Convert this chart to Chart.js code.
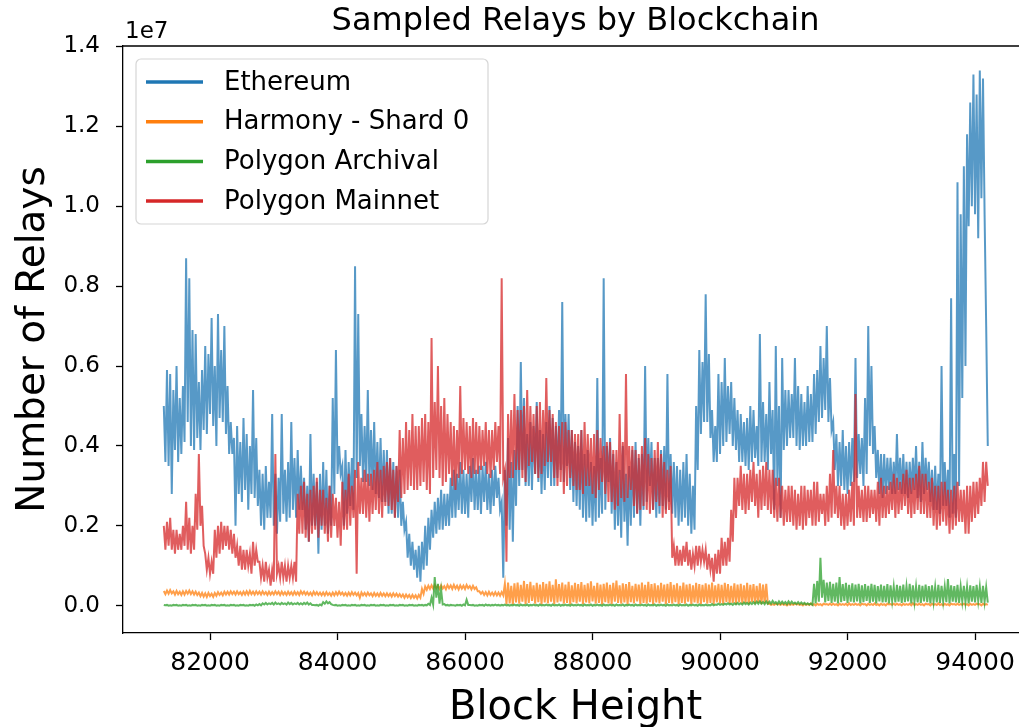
<!DOCTYPE html>
<html lang="en">
<head>
<meta charset="UTF-8">
<title>Sampled Relays by Blockchain</title>
<script src="https://cdn.jsdelivr.net/npm/chart.js"></script>
<style>
    html, body {
        margin: 0;
        padding: 0;
        background: #fff;
        overflow: hidden;
    }
    #wrap {
        width: 1040px;
        height: 727px;
    }
</style>
</head>
<body>
<div id="wrap"><canvas id="chart" width="1040" height="727"></canvas></div>
<script>
// one sample every 25 blocks from block 81275, values in millions of relays
// (each row covers 500 blocks; the series are read as alternating band top / band bottom)
const blockStart = 81275;
const blockStep = 25;

const ethereum = [
    5.0,3.6, 5.9,3.5, 5.8,2.8, 5.4,3.9, 6.0,3.6, 5.2,3.8, 5.5,4.1, 8.7,4.6, 8.2,4.0, 6.9,3.9,
    6.8,4.2, 5.6,3.9, 5.9,4.4, 6.5,4.3, 6.3,4.8, 7.2,4.5, 6.0,4.0, 7.3,4.7, 6.4,4.6, 7.0,4.3,
    5.5,3.8, 4.6,3.8, 4.2,2.0, 4.5,2.8, 4.1,2.6, 4.7,2.9, 4.3,2.4, 4.0,2.8, 5.4,2.7, 4.2,2.5,
    3.4,2.0, 3.3,1.9, 3.5,2.2, 3.1,2.2, 4.8,2.0, 3.3,1.8, 3.2,2.1, 4.8,2.3, 3.4,2.1, 3.6,2.2,
    4.6,2.4, 3.7,2.2, 3.9,2.4, 3.5,2.4, 3.2,1.9, 3.0,1.6, 4.3,2.0, 3.3,2.0, 3.1,1.3, 3.3,1.9,
    3.6,2.0, 3.4,1.8, 3.0,2.0, 5.2,2.8, 6.4,3.3, 4.0,3.3, 3.5,2.0, 3.9,2.3, 3.6,2.5, 3.7,2.4,
    8.5,3.2, 7.3,3.5, 4.8,3.1, 4.5,3.1, 5.4,3.0, 4.4,2.9, 4.6,2.8, 4.1,2.7, 4.2,2.6, 3.9,2.6,
    3.9,2.3, 3.7,2.3, 3.6,2.2, 3.5,2.2, 3.4,2.0, 2.6,1.9, 2.1,1.2, 1.8,1.0, 1.6,0.9, 1.4,0.7,
    1.5,0.6, 1.6,0.9, 2.0,1.0, 2.2,1.4, 2.4,1.7, 2.6,1.8, 2.7,1.9, 2.9,1.9, 2.8,2.0, 2.8,2.0,
    3.2,2.2, 3.4,2.2, 3.3,2.4, 3.6,2.3, 3.4,2.3, 3.3,2.2, 3.5,2.6, 3.7,2.4, 3.4,2.4, 3.5,2.3,
    3.5,2.6, 3.6,2.4, 3.3,2.3, 3.4,2.5, 3.5,2.7, 3.2,2.4, 2.6,0.7, 3.4,2.0, 4.2,1.9, 3.6,1.6,
    3.9,2.5, 5.0,3.0, 6.1,3.4, 5.2,3.0, 4.3,3.0, 4.6,2.9, 4.5,3.3, 5.1,3.1, 4.4,2.8, 4.3,2.9,
    4.6,3.2, 5.0,3.0, 4.7,3.0, 4.5,3.2, 4.9,3.4, 7.6,3.1, 4.8,3.5, 4.8,2.9, 4.4,2.6, 4.1,2.5,
    4.0,2.4, 4.4,2.2, 3.8,2.1, 3.9,2.2, 3.6,2.0, 3.5,2.1, 5.7,2.2, 3.7,2.3, 8.2,2.4, 4.0,3.1,
    4.2,2.3, 3.8,1.9, 3.6,2.0, 3.4,1.7, 4.0,2.1, 3.3,1.5, 3.5,2.0, 3.9,2.2, 4.1,2.3, 3.7,2.0,
    3.8,2.4, 6.0,2.6, 4.2,3.0, 4.1,2.4, 3.7,2.2, 3.7,2.3, 3.9,2.5, 4.0,2.4, 5.8,2.6, 3.8,2.3,
    3.6,2.2, 3.5,2.0, 3.4,2.1, 3.6,2.2, 3.8,2.0, 3.3,1.8, 3.0,1.9, 5.0,3.4, 6.4,4.3, 6.1,4.6,
    7.8,4.6, 6.3,4.2, 4.9,3.6, 4.5,3.6, 5.8,3.8, 5.6,4.0, 6.2,4.1, 5.5,4.3, 5.6,4.0, 5.2,3.9,
    4.9,3.6, 4.8,3.6, 4.6,3.5, 4.7,3.4, 5.0,3.6, 4.9,3.7, 4.5,3.5, 6.8,3.6, 5.1,3.6, 4.8,3.4,
    5.6,3.8, 4.9,2.4, 6.5,3.0, 5.0,2.2, 6.2,3.9, 5.4,4.0, 5.4,4.2, 5.3,4.2, 6.2,4.0, 5.5,3.9,
    5.3,4.0, 5.1,4.0, 5.5,4.1, 5.3,4.1, 5.8,4.3, 5.9,4.6, 6.5,4.7, 6.2,4.9, 7.0,4.6, 5.7,4.4,
    4.6,3.4, 4.3,3.0, 4.1,3.0, 4.4,2.9, 4.0,2.8, 4.1,3.0, 4.2,3.1, 6.2,3.2, 4.3,3.3, 4.2,3.0,
    5.2,3.3, 7.0,4.0, 6.0,3.8, 4.5,3.2, 3.9,2.8, 3.8,2.7, 3.8,2.8, 3.7,2.9, 3.7,2.8, 3.6,2.8,
    4.3,2.9, 3.7,2.8, 3.8,2.8, 3.6,2.7, 3.6,2.8, 3.7,2.9, 4.0,2.7, 3.6,2.6, 4.1,2.8, 3.7,2.9,
    3.6,2.6, 3.4,2.4, 3.5,2.4, 3.3,2.3, 6.0,2.5, 3.6,2.5, 3.4,2.2, 7.7,2.3, 3.8,2.2, 10.6,3.0,
    9.8,5.2, 11.0,6.0, 11.8,9.5, 12.6,10.0, 13.3,9.8, 12.8,9.2, 13.4,10.2, 13.2,9.8, 7.0,4.0
];

const harmony = [
    0.37,0.29, 0.38,0.30, 0.39,0.31, 0.36,0.28, 0.37,0.29, 0.35,0.27, 0.36,0.28, 0.37,0.30, 0.38,0.29, 0.36,0.28,
    0.35,0.27, 0.33,0.24, 0.32,0.23, 0.31,0.22, 0.32,0.24, 0.30,0.22, 0.32,0.25, 0.34,0.27, 0.33,0.26, 0.35,0.28,
    0.35,0.28, 0.36,0.29, 0.35,0.28, 0.36,0.29, 0.34,0.27, 0.35,0.28, 0.36,0.28, 0.37,0.29, 0.35,0.28, 0.36,0.29,
    0.35,0.28, 0.36,0.29, 0.34,0.27, 0.35,0.28, 0.34,0.28, 0.36,0.29, 0.35,0.27, 0.35,0.28, 0.34,0.27, 0.35,0.28,
    0.34,0.27, 0.35,0.28, 0.34,0.27, 0.36,0.29, 0.35,0.28, 0.34,0.27, 0.33,0.26, 0.35,0.28, 0.34,0.27, 0.33,0.26,
    0.33,0.26, 0.34,0.27, 0.32,0.25, 0.33,0.26, 0.34,0.27, 0.35,0.28, 0.33,0.26, 0.32,0.25, 0.33,0.26, 0.34,0.27,
    0.33,0.26, 0.32,0.20, 0.33,0.26, 0.32,0.25, 0.33,0.26, 0.31,0.24, 0.32,0.25, 0.31,0.24, 0.32,0.25, 0.31,0.24,
    0.31,0.24, 0.30,0.23, 0.31,0.24, 0.30,0.23, 0.29,0.22, 0.28,0.20, 0.28,0.21, 0.27,0.19, 0.27,0.20, 0.26,0.18,
    0.27,0.20, 0.42,0.30, 0.48,0.40, 0.50,0.42, 0.51,0.43, 0.52,0.44, 0.50,0.42, 0.51,0.43, 0.49,0.41, 0.52,0.44,
    0.51,0.42, 0.52,0.43, 0.50,0.41, 0.51,0.43, 0.50,0.42, 0.52,0.44, 0.49,0.41, 0.50,0.42, 0.46,0.36, 0.36,0.30,
    0.35,0.27, 0.34,0.26, 0.35,0.27, 0.33,0.26, 0.34,0.26, 0.33,0.25, 0.34,0.26, 0.55,0.04, 0.58,0.06, 0.50,0.03,
    0.56,0.08, 0.58,0.05, 0.52,0.10, 0.62,0.04, 0.54,0.07, 0.60,0.12, 0.51,0.05, 0.57,0.09, 0.53,0.03, 0.59,0.08,
    0.55,0.06, 0.61,0.10, 0.52,0.04, 0.66,0.08, 0.54,0.11, 0.58,0.05, 0.53,0.07, 0.60,0.03, 0.51,0.09, 0.57,0.06,
    0.54,0.10, 0.59,0.04, 0.52,0.08, 0.56,0.06, 0.61,0.11, 0.50,0.05, 0.57,0.07, 0.53,0.03, 0.55,0.09, 0.58,0.06,
    0.52,0.04, 0.57,0.10, 0.63,0.07, 0.51,0.05, 0.56,0.08, 0.54,0.03, 0.59,0.09, 0.50,0.06, 0.55,0.11, 0.53,0.04,
    0.58,0.07, 0.52,0.05, 0.60,0.09, 0.54,0.03, 0.56,0.08, 0.51,0.06, 0.57,0.10, 0.53,0.04, 0.55,0.07, 0.59,0.05,
    0.52,0.09, 0.56,0.04, 0.50,0.07, 0.58,0.05, 0.53,0.10, 0.55,0.03, 0.51,0.08, 0.57,0.06, 0.54,0.04, 0.52,0.09,
    0.56,0.05, 0.53,0.07, 0.58,0.03, 0.51,0.08, 0.55,0.06, 0.52,0.04, 0.57,0.09, 0.54,0.05, 0.50,0.07, 0.56,0.03,
    0.53,0.08, 0.55,0.05, 0.51,0.06, 0.57,0.04, 0.52,0.09, 0.54,0.05, 0.50,0.07, 0.56,0.04, 0.53,0.06, 0.55,0.05,
    0.05,0.02, 0.04,0.02, 0.05,0.03, 0.04,0.02, 0.05,0.02, 0.04,0.01, 0.05,0.02, 0.04,0.02, 0.05,0.03, 0.04,0.02,
    0.04,0.01, 0.05,0.02, 0.04,0.02, 0.06,0.02, 0.04,0.01, 0.05,0.02, 0.04,0.01, 0.05,0.03, 0.04,0.02, 0.05,0.02,
    0.05,0.02, 0.04,0.01, 0.05,0.02, 0.04,0.02, 0.05,0.01, 0.06,0.02, 0.04,0.02, 0.05,0.02, 0.04,0.01, 0.05,0.03,
    0.04,0.01, 0.05,0.02, 0.04,0.02, 0.06,0.02, 0.04,0.01, 0.05,0.02, 0.04,0.01, 0.05,0.03, 0.04,0.02, 0.05,0.02,
    0.05,0.02, 0.04,0.01, 0.05,0.02, 0.04,0.02, 0.05,0.01, 0.06,0.02, 0.04,0.02, 0.05,0.02, 0.04,0.01, 0.05,0.03,
    0.04,0.01, 0.05,0.02, 0.04,0.02, 0.06,0.02, 0.04,0.01, 0.05,0.02, 0.04,0.01, 0.05,0.03, 0.04,0.02, 0.05,0.02,
    0.04,0.02, 0.05,0.02, 0.04,0.01, 0.05,0.02, 0.04,0.02, 0.05,0.03, 0.04,0.01, 0.05,0.02, 0.04,0.02
];

const polygonArchival = [
    0.02,0.01, 0.02,0.00, 0.01,0.00, 0.02,0.01, 0.02,0.00, 0.01,0.00, 0.02,0.01, 0.02,0.00, 0.01,0.00, 0.02,0.01,
    0.02,0.00, 0.01,0.00, 0.02,0.01, 0.02,0.00, 0.01,0.00, 0.02,0.01, 0.02,0.00, 0.01,0.00, 0.02,0.01, 0.02,0.00,
    0.01,0.00, 0.02,0.01, 0.02,0.00, 0.01,0.00, 0.02,0.01, 0.02,0.00, 0.01,0.00, 0.02,0.01, 0.02,0.00, 0.03,0.01,
    0.04,0.01, 0.06,0.03, 0.07,0.03, 0.06,0.04, 0.07,0.03, 0.08,0.04, 0.06,0.03, 0.07,0.04, 0.06,0.03, 0.08,0.04,
    0.07,0.03, 0.06,0.04, 0.07,0.03, 0.06,0.03, 0.07,0.04, 0.08,0.03, 0.06,0.02, 0.02,0.01, 0.02,0.00, 0.03,0.01,
    0.09,0.05, 0.11,0.06, 0.09,0.04, 0.02,0.01, 0.02,0.00, 0.01,0.00, 0.02,0.01, 0.02,0.00, 0.01,0.00, 0.02,0.01,
    0.02,0.00, 0.01,0.00, 0.02,0.01, 0.02,0.00, 0.01,0.00, 0.02,0.01, 0.02,0.00, 0.01,0.00, 0.02,0.01, 0.02,0.00,
    0.01,0.00, 0.02,0.01, 0.02,0.00, 0.01,0.00, 0.02,0.01, 0.02,0.00, 0.01,0.00, 0.02,0.01, 0.02,0.00, 0.01,0.00,
    0.02,0.01, 0.02,0.00, 0.02,0.01, 0.05,0.02, 0.20,0.03, 0.72,0.20, 0.55,0.05, 0.40,0.03, 0.04,0.01, 0.02,0.00,
    0.02,0.01, 0.01,0.00, 0.02,0.01, 0.02,0.00, 0.03,0.01, 0.15,0.02, 0.02,0.01, 0.02,0.00, 0.01,0.00, 0.02,0.01,
    0.02,0.00, 0.03,0.01, 0.02,0.00, 0.02,0.01, 0.03,0.01, 0.02,0.00, 0.02,0.01, 0.03,0.01, 0.02,0.00, 0.02,0.01,
    0.03,0.01, 0.02,0.00, 0.03,0.01, 0.02,0.01, 0.03,0.00, 0.02,0.01, 0.03,0.01, 0.02,0.00, 0.03,0.01, 0.02,0.01,
    0.03,0.01, 0.02,0.00, 0.03,0.01, 0.02,0.01, 0.03,0.00, 0.02,0.01, 0.03,0.01, 0.02,0.00, 0.03,0.01, 0.02,0.01,
    0.03,0.01, 0.02,0.00, 0.03,0.01, 0.02,0.01, 0.03,0.00, 0.02,0.01, 0.03,0.01, 0.02,0.00, 0.03,0.01, 0.02,0.01,
    0.03,0.01, 0.02,0.00, 0.03,0.01, 0.02,0.01, 0.03,0.00, 0.02,0.01, 0.03,0.01, 0.02,0.00, 0.03,0.01, 0.02,0.01,
    0.03,0.01, 0.02,0.00, 0.03,0.01, 0.02,0.01, 0.03,0.00, 0.02,0.01, 0.03,0.01, 0.02,0.00, 0.03,0.01, 0.02,0.01,
    0.03,0.01, 0.02,0.00, 0.03,0.01, 0.02,0.01, 0.03,0.00, 0.02,0.01, 0.03,0.01, 0.02,0.00, 0.03,0.01, 0.02,0.01,
    0.03,0.01, 0.02,0.01, 0.04,0.01, 0.03,0.02, 0.05,0.02, 0.04,0.02, 0.05,0.03, 0.06,0.03, 0.05,0.02, 0.06,0.03,
    0.07,0.03, 0.06,0.03, 0.08,0.04, 0.07,0.03, 0.08,0.04, 0.09,0.04, 0.10,0.05, 0.11,0.05, 0.09,0.04, 0.11,0.05,
    0.10,0.05, 0.12,0.06, 0.09,0.04, 0.11,0.05, 0.10,0.05, 0.09,0.04, 0.11,0.05, 0.10,0.05, 0.08,0.04, 0.09,0.04,
    0.08,0.04, 0.07,0.03, 0.06,0.03, 0.05,0.02, 0.55,0.06, 0.62,0.10, 1.20,0.20, 0.65,0.08, 0.58,0.12, 0.60,0.07,
    0.55,0.10, 0.58,0.06, 0.72,0.09, 0.54,0.12, 0.57,0.07, 0.52,0.10, 0.56,0.08, 0.53,0.11, 0.55,0.06, 0.51,0.09,
    0.54,0.12, 0.50,0.07, 0.55,0.10, 0.52,0.06, 0.49,0.11, 0.53,0.08, 0.50,0.09, 0.54,0.06, 0.51,0.12, 0.48,0.08,
    0.52,0.10, 0.50,0.07, 0.53,0.09, 0.49,0.11, 0.55,0.06, 0.51,0.10, 0.48,0.08, 0.52,0.07, 0.50,0.11, 0.53,0.09,
    0.49,0.06, 0.51,0.10, 0.47,0.08, 0.52,0.07, 0.50,0.11, 0.48,0.09, 0.67,0.06, 0.51,0.10, 0.49,0.08, 0.52,0.07,
    0.48,0.11, 0.50,0.09, 0.47,0.06, 0.51,0.10, 0.49,0.08, 0.52,0.12, 0.48,0.07, 0.50,0.10, 0.46,0.08
];

const polygonMainnet = [
    2.0,1.4, 2.1,1.5, 2.2,1.4, 1.9,1.3, 1.9,1.4, 1.8,1.4, 2.0,1.5, 2.6,1.4, 2.2,1.3, 2.0,1.4,
    2.8,1.9, 3.8,2.0, 2.5,1.5, 1.3,0.9, 1.2,0.8, 1.1,0.8, 1.9,1.2, 2.0,1.3, 2.1,1.4, 2.0,1.5,
    2.0,1.4, 1.9,1.3, 1.8,1.2, 1.5,1.0, 1.5,0.9, 1.4,0.9, 1.4,1.0, 1.3,0.8, 1.6,1.0, 1.4,1.1,
    1.1,0.7, 1.0,0.6, 1.1,0.7, 0.9,0.5, 0.9,0.6, 3.8,0.8, 1.0,0.7, 1.1,0.7, 1.0,0.6, 1.0,0.7,
    1.0,0.7, 1.1,0.6, 2.8,1.8, 3.0,1.8, 3.1,1.7, 2.8,1.6, 2.9,1.8, 3.0,1.9, 3.2,1.7, 2.9,2.0,
    2.9,1.8, 2.7,1.6, 3.0,1.7, 2.8,2.0, 2.7,1.7, 2.6,1.5, 3.1,1.9, 2.9,1.9, 3.3,2.0, 3.0,2.2,
    3.4,0.8, 3.6,2.3, 3.2,2.3, 3.4,2.2, 3.3,2.1, 3.3,2.3, 3.4,2.4, 3.6,2.3, 3.4,2.2, 3.5,2.5,
    3.6,2.5, 3.7,2.4, 3.4,2.2, 3.5,2.6, 4.4,2.7, 4.2,2.8, 4.6,2.9, 4.4,3.0, 4.8,2.9, 4.5,2.9,
    4.5,3.0, 4.7,3.1, 4.8,2.9, 4.6,2.8, 6.7,3.2, 5.1,3.4, 6.0,3.2, 5.0,3.0, 5.2,3.1, 4.8,3.3,
    4.6,3.0, 4.5,2.9, 4.4,3.2, 5.5,3.3, 4.7,3.4, 4.6,3.3, 4.5,3.2, 4.7,3.3, 4.6,3.3, 4.5,3.4,
    4.4,3.5, 4.6,3.3, 4.4,3.2, 4.4,3.4, 4.6,3.6, 4.5,3.3, 8.2,3.2, 3.4,1.1, 4.8,3.2, 4.9,3.2,
    5.3,3.4, 4.9,3.4, 4.9,3.2, 5.0,3.1, 5.4,3.5, 5.0,3.6, 4.8,3.3, 5.0,3.2, 5.1,3.3, 4.9,3.5,
    5.7,3.6, 4.9,3.6, 4.8,3.2, 4.6,3.0, 4.5,3.1, 4.6,2.8, 4.6,3.0, 4.4,3.2, 4.4,3.0, 4.3,2.9,
    4.3,2.9, 4.4,2.8, 4.6,3.0, 4.3,3.0, 4.2,2.8, 4.3,2.7, 4.4,2.9, 4.2,3.1, 4.0,2.8, 4.1,2.6,
    4.1,2.6, 3.9,2.4, 3.9,2.5, 4.8,2.7, 4.1,2.6, 5.8,2.7, 4.0,2.9, 4.0,2.5, 3.9,2.3, 3.8,2.4,
    4.0,2.5, 4.2,2.4, 3.8,2.3, 3.7,2.4, 3.9,2.6, 4.1,2.5, 3.8,2.2, 3.6,2.3, 3.4,2.4, 3.5,1.2,
    1.5,1.0, 1.5,1.0, 1.4,1.0, 1.5,1.1, 1.6,1.0, 1.4,0.9, 1.3,1.0, 1.5,1.0, 1.5,1.1, 1.4,1.1,
    1.4,0.9, 1.3,0.9, 1.2,0.6, 1.3,0.8, 1.4,0.8, 1.7,1.0, 1.6,1.0, 1.7,1.1, 2.4,1.6, 3.2,2.2,
    3.2,2.5, 3.5,2.4, 3.3,2.3, 3.3,2.4, 3.4,2.6, 3.6,2.5, 3.3,2.2, 3.4,2.4, 3.5,2.5, 3.6,2.4,
    3.4,2.3, 3.4,2.2, 3.2,2.1, 3.2,2.2, 3.0,2.0, 2.9,2.1, 3.0,2.1, 3.0,2.0, 2.9,1.9, 2.8,2.0,
    3.0,1.9, 3.0,2.0, 2.9,2.2, 2.9,2.0, 3.1,2.0, 3.1,2.1, 2.8,2.3, 2.8,2.0, 3.0,2.1, 3.3,2.2,
    3.9,2.3, 3.0,2.2, 3.0,2.0, 2.8,1.9, 2.8,2.0, 2.9,2.1, 3.1,2.0, 5.3,2.2, 3.0,2.2, 2.9,2.1,
    3.0,2.1, 3.0,2.2, 2.9,2.3, 2.9,2.1, 3.1,2.0, 3.2,2.2, 3.0,2.2, 3.0,2.3, 3.1,2.4, 3.3,2.2,
    3.2,2.3, 3.1,2.4, 3.3,2.5, 3.4,2.3, 3.2,2.2, 3.2,2.3, 3.3,2.4, 3.5,2.3, 3.3,2.3, 3.3,2.2,
    3.1,2.2, 3.2,2.0, 3.0,1.9, 3.0,2.0, 3.1,2.1, 3.1,2.0, 2.9,1.8, 2.9,1.9, 3.0,2.0, 3.1,2.1,
    2.9,2.1, 2.9,1.8, 3.0,1.8, 3.0,2.1, 3.1,2.2, 3.1,2.3, 3.2,2.5, 3.6,2.6, 3.6,3.0
];

const seriesNames = ['Ethereum', 'Harmony - Shard 0', 'Polygon Archival', 'Polygon Mainnet'];
const seriesColors = ['#1f77b4', '#ff7f0e', '#2ca02c', '#d62728'];
const xTicks = [82000, 84000, 86000, 88000, 90000, 92000, 94000];
const yTicks = [0, 2e6, 4e6, 6e6, 8e6, 10e6, 12e6, 14e6];

function toPoints(values) {
    return values.map((v, i) => ({ x: blockStart + blockStep * i, y: v * 1e6 }));
}

function fade(hex, a) {
    const n = parseInt(hex.slice(1), 16);
    return 'rgba(' + (n >> 16) + ',' + ((n >> 8) & 255) + ',' + (n & 255) + ',' + a + ')';
}

const allSeries = [ethereum, harmony, polygonArchival, polygonMainnet];
const datasets = allSeries.map((vals, k) => ({
    label: seriesNames[k],
    data: toPoints(vals),
    borderColor: fade(seriesColors[k], 0.75),
    borderWidth: 2,
    pointRadius: 0,
    tension: 0,
    fill: false,
    order: 3 - k  // later series drawn on top, like matplotlib
}));

const FONT = "'DejaVu Sans', sans-serif";

// title, axis labels, offset text, legend and the top spine
const decorations = {
    id: 'decorations',
    afterDraw(chart) {
        const ctx = chart.ctx;
        const area = chart.chartArea;
        ctx.save();
        ctx.strokeStyle = '#000';
        ctx.lineWidth = 1.3;
        ctx.beginPath();
        ctx.moveTo(area.left, area.top);
        ctx.lineTo(area.right, area.top);
        ctx.lineTo(area.right, area.bottom);
        ctx.stroke();

        ctx.fillStyle = '#000';
        ctx.textAlign = 'center';
        ctx.textBaseline = 'alphabetic';
        const cx = (area.left + area.right) / 2;
        ctx.font = '32px ' + FONT;
        ctx.fillText('Sampled Relays by Blockchain', cx, 30);

        ctx.font = '40px ' + FONT;
        ctx.fillText('Block Height', cx, 719);

        ctx.save();
        ctx.translate(44, (area.top + area.bottom) / 2);
        ctx.rotate(-Math.PI / 2);
        ctx.font = '39px ' + FONT;
        ctx.fillText('Number of Relays', 0, 0);
        ctx.restore();

        ctx.textAlign = 'left';
        ctx.font = '23px ' + FONT;
        ctx.fillText('1e7', 125, 38);

        // legend
        const lx = 136, ly = 59, lw = 352, lh = 165, r = 5;
        ctx.beginPath();
        ctx.moveTo(lx + r, ly);
        ctx.arcTo(lx + lw, ly, lx + lw, ly + lh, r);
        ctx.arcTo(lx + lw, ly + lh, lx, ly + lh, r);
        ctx.arcTo(lx, ly + lh, lx, ly, r);
        ctx.arcTo(lx, ly, lx + lw, ly, r);
        ctx.closePath();
        ctx.fillStyle = 'rgba(255,255,255,0.8)';
        ctx.fill();
        ctx.strokeStyle = '#d6d6d6';
        ctx.lineWidth = 1.2;
        ctx.stroke();

        ctx.font = '26px ' + FONT;
        ctx.textBaseline = 'middle';
        chart.data.datasets.forEach((ds, k) => {
            const y = 82 + k * 39.7;
            ctx.strokeStyle = seriesColors[k];
            ctx.lineWidth = 3.5;
            ctx.beginPath();
            ctx.moveTo(146, y);
            ctx.lineTo(203, y);
            ctx.stroke();
            ctx.fillStyle = '#000';
            ctx.fillText(ds.label, 224, y + 1);
        });
        ctx.restore();
    }
};

new Chart(document.getElementById('chart'), {
    type: 'line',
    data: { datasets },
    options: {
        responsive: false,
        devicePixelRatio: 1,
        animation: false,
        normalized: true,
        layout: { padding: { top: 46, right: 12, left: 0, bottom: 0 } },
        plugins: {
            legend: { display: false },
            title: { display: false },
            tooltip: { enabled: false }
        },
        scales: {
            x: {
                type: 'linear',
                min: 80635,
                max: 94831,
                afterBuildTicks: s => { s.ticks = xTicks.map(v => ({ value: v })); },
                afterFit: s => { s.height = 94; },
                grid: { drawOnChartArea: false, drawTicks: true, tickLength: 7, tickWidth: 1.3, tickColor: '#000' },
                border: { display: true, color: '#000', width: 1.3 },
                ticks: {
                    color: '#000',
                    font: { family: FONT, size: 25 },
                    padding: 8,
                    maxRotation: 0,
                    callback: v => String(v)
                }
            },
            y: {
                type: 'linear',
                min: -683000,
                max: 14012000,
                afterBuildTicks: s => { s.ticks = yTicks.map(v => ({ value: v })); },
                afterFit: s => { s.width = 123; },
                grid: { drawOnChartArea: false, drawTicks: true, tickLength: 7, tickWidth: 1.3, tickColor: '#000' },
                border: { display: true, color: '#000', width: 1.3 },
                ticks: {
                    color: '#000',
                    font: { family: FONT, size: 23 },
                    padding: 16,
                    callback: v => (v / 1e7).toFixed(1)
                }
            }
        }
    },
    plugins: [decorations]
});
</script>
</body>
</html>
